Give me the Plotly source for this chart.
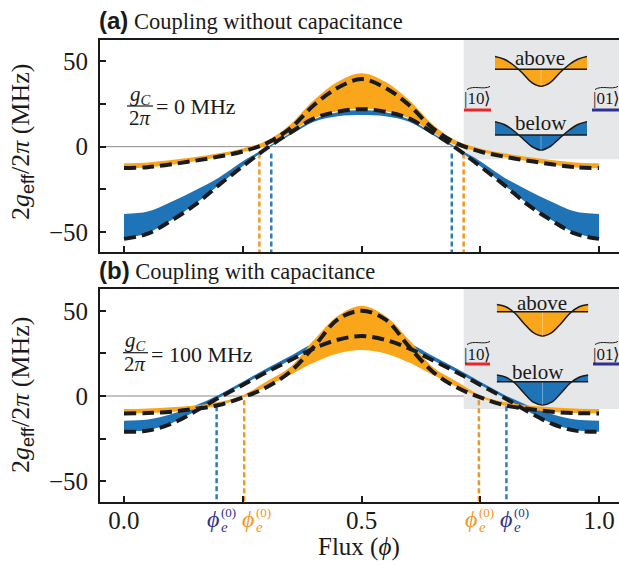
import plotly.graph_objects as go

# ---------------- data ----------------
flux = [0.00, 0.05, 0.10, 0.15, 0.20, 0.25, 0.30, 0.35, 0.40, 0.45, 0.50,
        0.55, 0.60, 0.65, 0.70, 0.75, 0.80, 0.85, 0.90, 0.95, 1.00]

# panel (a): g_C/2pi = 0 MHz
a_or_hi = [-9.7, -9.2, -7.8, -6.0, -3.9, -1.0, 3.5, 13.0, 27.3, 38.0, 43.0,
           38.0, 27.3, 13.0, 3.5, -1.0, -3.9, -6.0, -7.8, -9.2, -9.7]
a_or_lo = [-12.7, -12.2, -10.6, -8.5, -6.0, -3.0, 0.5, 8.2, 16.6, 20.8, 22.3,
           20.8, 16.6, 8.2, 0.5, -3.0, -6.0, -8.5, -10.6, -12.2, -12.7]
a_bl_hi = [-39.4, -38.0, -32.2, -25.5, -18.0, -8.5, -0.5, 7.8, 16.0, 20.2, 21.5,
           20.2, 16.0, 7.8, -0.5, -8.5, -18.0, -25.5, -32.2, -38.0, -39.4]
a_bl_lo = [-53.7, -50.5, -43.0, -33.5, -22.4, -11.5, -1.5, 6.8, 14.6, 17.8, 18.5,
           17.8, 14.6, 6.8, -1.5, -11.5, -22.4, -33.5, -43.0, -50.5, -53.7]
a_dash_above = [-12.5, -12.0, -10.3, -8.2, -5.8, -2.8, 2.0, 10.8, 24.4, 34.5, 39.6,
                34.5, 24.4, 10.8, 2.0, -2.8, -5.8, -8.2, -10.3, -12.0, -12.5]
a_dash_below = [-54.0, -51.0, -43.2, -34.0, -22.4, -11.5, -1.0, 8.2, 16.6, 20.5, 22.0,
                20.5, 16.6, 8.2, -1.0, -11.5, -22.4, -34.0, -43.2, -51.0, -54.0]
a_cross_orange = [0.285, 0.715]
a_cross_blue = [0.310, 0.690]

# panel (b): g_C/2pi = 100 MHz
b_or_hi = [-7.6, -7.3, -6.6, -5.5, -3.5, 0.5, 8.5, 17.0, 33.0, 47.0, 53.0,
           47.0, 33.0, 17.0, 8.5, 0.5, -3.5, -5.5, -6.6, -7.3, -7.6]
b_or_lo = [-10.2, -10.0, -9.3, -7.8, -5.5, -0.8, 5.5, 12.5, 19.7, 25.0, 27.0,
           25.0, 19.7, 12.5, 5.5, -0.8, -5.5, -7.8, -9.3, -10.0, -10.2]
b_bl_hi = [-14.5, -13.8, -10.5, -5.5, 0.8, 8.4, 16.2, 23.5, 31.0, 34.0, 35.0,
           34.0, 31.0, 23.5, 16.2, 8.4, 0.8, -5.5, -10.5, -13.8, -14.5]
b_bl_lo = [-21.0, -20.0, -16.0, -9.0, -1.0, 6.5, 14.0, 21.0, 28.0, 31.5, 32.5,
           31.5, 28.0, 21.0, 14.0, 6.5, -1.0, -9.0, -16.0, -20.0, -21.0]
b_dash_above = [-10.2, -10.0, -9.2, -7.5, -5.3, -0.8, 5.1, 14.3, 29.0, 45.0, 50.0,
                45.0, 29.0, 14.3, 5.1, -0.8, -5.3, -7.5, -9.2, -10.0, -10.2]
b_dash_below = [-21.0, -20.3, -16.2, -9.0, -1.0, 6.5, 14.0, 21.0, 28.0, 33.0, 35.2,
                33.0, 28.0, 21.0, 14.0, 6.5, -1.0, -9.0, -16.2, -20.3, -21.0]
b_cross_blue = [0.195, 0.805]
b_cross_orange = [0.253, 0.747]

# inset sketches (wave profile, arbitrary units)
inset_t = [0.0, 0.1, 0.2, 0.3, 0.4, 0.5, 0.6, 0.7, 0.8, 0.9, 1.0]
wave_a_above = [12.7, 10.0, 4.3, -4.0, -13.3, -17.0, -13.3, -4.0, 4.3, 10.0, 12.7]
wave_a_below = [13.3, 10.5, 4.5, -3.5, -11.5, -15.0, -11.5, -3.5, 4.5, 10.5, 13.3]
wave_b_above = [7.3, 5.0, -1.5, -12.0, -21.0, -24.3, -21.0, -12.0, -1.5, 5.0, 7.3]
wave_b_below = [6.7, 4.5, -1.5, -11.5, -20.5, -23.3, -20.5, -11.5, -1.5, 4.5, 6.7]

y_ticks = [-50, -25, 0, 25, 50]
y_ticktext = ["\u221250", " ", "0", " ", "50"]
x_ticks = [0.0, 0.25, 0.5, 0.75, 1.0]
x_ticktext = ["0.0", " ", "0.5", " ", "1.0"]

# ---------------- style ----------------
W, H = 619, 565
SERIF = "Liberation Serif"
SANS = "Liberation Sans"
ORANGE = "#FAA61A"
BLUE = "#1F74B8"
DOT_ORANGE = "#F7941D"
DOT_BLUE = "#2A7DC2"
NAVY = "#2E3192"
RED = "#E8262A"
GRAYBOX = "#E6E7E8"

X_RANGE = [-0.0505, 1.042]
A_RANGE = [-61.7, 62.5]
B_RANGE = [-62.0, 62.8]
GRAY_X0 = 0.715


def fx(p):
    return p / W


def fy(p):
    return 1 - p / H


fig = go.Figure()


def add_band(xa, ya, lo, hi, color):
    fig.add_trace(go.Scatter(x=flux, y=lo, mode="lines", xaxis=xa, yaxis=ya,
                             line=dict(width=0, shape="spline", color=color),
                             hoverinfo="skip", showlegend=False))
    fig.add_trace(go.Scatter(x=flux, y=hi, mode="lines", xaxis=xa, yaxis=ya,
                             line=dict(width=0, shape="spline", color=color),
                             fill="tonexty", fillcolor=color,
                             hoverinfo="skip", showlegend=False))


def add_dash(xa, ya, vals):
    fig.add_trace(go.Scatter(x=flux, y=vals, mode="lines", xaxis=xa, yaxis=ya,
                             line=dict(width=4, shape="spline", color="#1a1a1a", dash="12px,6px"),
                             hoverinfo="skip", showlegend=False))


def add_vlines(xa, ya, xs, y_top, y_bot, color):
    xx, yy = [], []
    for c in xs:
        xx += [c, c, None]
        yy += [y_top, y_bot, None]
    fig.add_trace(go.Scatter(x=xx, y=yy, mode="lines", xaxis=xa, yaxis=ya,
                             line=dict(width=2.5, color=color, dash="5px,3px"),
                             hoverinfo="skip", showlegend=False))


def add_zero(xa, ya):
    fig.add_trace(go.Scatter(x=[X_RANGE[0], GRAY_X0], y=[0, 0], mode="lines",
                             xaxis=xa, yaxis=ya, line=dict(width=1, color="#8a8a8a"),
                             hoverinfo="skip", showlegend=False))


# panel a
add_zero("x", "y")
add_vlines("x", "y", a_cross_orange, -4, A_RANGE[0], DOT_ORANGE)
add_vlines("x", "y", a_cross_blue, -4, A_RANGE[0], DOT_BLUE)
add_band("x", "y", a_bl_lo, a_bl_hi, BLUE)
add_band("x", "y", a_or_lo, a_or_hi, ORANGE)
add_dash("x", "y", a_dash_above)
add_dash("x", "y", a_dash_below)

# panel b
add_zero("x2", "y2")
add_vlines("x2", "y2", b_cross_blue, -6, B_RANGE[0], DOT_BLUE)
add_vlines("x2", "y2", b_cross_orange, -2.5, B_RANGE[0], DOT_ORANGE)
add_band("x2", "y2", b_bl_lo, b_bl_hi, BLUE)
add_band("x2", "y2", b_or_lo, b_or_hi, ORANGE)
add_dash("x2", "y2", b_dash_above)
add_dash("x2", "y2", b_dash_below)

# insets: (axis index, wave, color, x px range, baseline py, dom top py, dom bottom py)
insets = [
    (3, wave_a_above, ORANGE, (495, 587), 69.3, 52, 90),
    (4, wave_a_below, BLUE, (495, 587), 135.0, 118, 154),
    (5, wave_b_above, ORANGE, (496.7, 588.3), 311.7, 300, 340),
    (6, wave_b_below, BLUE, (496.7, 588.3), 381.7, 371, 408),
]
inset_layout = {}
for idx, wave, color, (x0, x1), base, dtop, dbot in insets:
    xa, ya = f"x{idx}", f"y{idx}"
    zero = [0.0] * len(inset_t)
    fig.add_trace(go.Scatter(x=inset_t, y=zero, mode="lines", xaxis=xa, yaxis=ya,
                             line=dict(width=0, color=color), hoverinfo="skip", showlegend=False))
    fig.add_trace(go.Scatter(x=inset_t, y=wave, mode="lines", xaxis=xa, yaxis=ya,
                             line=dict(width=1.5, color="#1a1a1a", shape="spline"),
                             fill="tonexty", fillcolor=color, hoverinfo="skip", showlegend=False))
    mid = len(inset_t) // 2
    fig.add_trace(go.Scatter(x=[inset_t[mid], inset_t[mid]], y=[0, wave[mid]], mode="lines",
                             xaxis=xa, yaxis=ya, line=dict(width=1, color="rgba(255,255,255,0.35)"),
                             hoverinfo="skip", showlegend=False))
    fig.add_trace(go.Scatter(x=inset_t, y=zero, mode="lines", xaxis=xa, yaxis=ya,
                             line=dict(width=1.5, color="#1a1a1a"), hoverinfo="skip", showlegend=False))
    inset_layout[f"xaxis{idx}"] = dict(domain=[fx(x0), fx(x1)], range=[inset_t[0], inset_t[-1]],
                                       anchor=ya, visible=False, fixedrange=True, automargin=False)
    inset_layout[f"yaxis{idx}"] = dict(domain=[fy(dbot), fy(dtop)], range=[-(dbot - base), base - dtop],
                                       anchor=xa, visible=False, fixedrange=True, automargin=False)

axis_common = dict(showline=True, linecolor="#1a1a1a", linewidth=2, ticks="inside",
                   ticklen=6, tickwidth=1.5, tickcolor="#1a1a1a", showgrid=False,
                   zeroline=False, automargin=False,
                   tickfont=dict(family=SERIF, size=25, color="#1a1a1a"))

fig.update_layout(
    template="none",
    width=W, height=H, autosize=False,
    margin=dict(l=0, r=0, t=0, b=0, pad=0, autoexpand=False),
    paper_bgcolor="white", plot_bgcolor="rgba(0,0,0,0)",
    font=dict(family=SERIF, color="#1a1a1a"),
    showlegend=False,
    xaxis=dict(domain=[fx(100), 1], range=X_RANGE, anchor="y", mirror=True,
               tickvals=x_ticks, showticklabels=False, **axis_common),
    yaxis=dict(domain=[fy(252), fy(40)], range=A_RANGE, anchor="x",
               tickvals=y_ticks, ticktext=y_ticktext, ticklabelstandoff=5, **axis_common),
    xaxis2=dict(domain=[fx(100), 1], range=X_RANGE, anchor="y2", mirror=True,
                tickvals=x_ticks, ticktext=x_ticktext, ticklabelstandoff=-5, **axis_common),
    yaxis2=dict(domain=[fy(501.7), fy(289)], range=B_RANGE, anchor="x2",
                tickvals=y_ticks, ticktext=y_ticktext, ticklabelstandoff=5, **axis_common),
    **inset_layout,
)

shapes = []
# gray inset backgrounds
shapes.append(dict(type="rect", xref="x", yref="y", x0=GRAY_X0, x1=X_RANGE[1], y0=-7.4, y1=A_RANGE[1],
                   fillcolor=GRAYBOX, line=dict(width=0), layer="below"))
shapes.append(dict(type="rect", xref="x2", yref="y2", x0=GRAY_X0, x1=X_RANGE[1], y0=-7.6, y1=B_RANGE[1],
                   fillcolor=GRAYBOX, line=dict(width=0), layer="below"))


def hline(x0, x1, y, color, width):
    shapes.append(dict(type="line", xref="paper", yref="paper", x0=fx(x0), x1=fx(x1),
                       y0=fy(y), y1=fy(y), line=dict(color=color, width=width)))


def tilde(x0, x1, y):
    w = x1 - x0
    path = (f"M {fx(x0)},{fy(y + 1.5)} C {fx(x0 + w * 0.3)},{fy(y - 3)} "
            f"{fx(x0 + w * 0.7)},{fy(y + 2)} {fx(x1)},{fy(y - 1.5)}")
    shapes.append(dict(type="path", xref="paper", yref="paper", path=path,
                       line=dict(color="#1a1a1a", width=1)))


# ket underlines and tildes
hline(464, 491, 110, RED, 3)
hline(592, 619, 110, NAVY, 3)
hline(465, 490, 364, RED, 3)
hline(593, 619, 364, NAVY, 3)
tilde(467, 490, 88)
tilde(595, 618, 88)
tilde(467, 490, 343)
tilde(595, 618, 343)
# fraction bars
hline(127, 153, 106, "#1a1a1a", 1.2)
hline(123, 148, 352.7, "#1a1a1a", 1.2)

fig.update_layout(shapes=shapes)

ann = []


def text(x, y, s, size, xanchor="center", yanchor="middle", color="#1a1a1a", family=SERIF, angle=0):
    ann.append(dict(x=fx(x), y=fy(y), xref="paper", yref="paper", text=s, showarrow=False,
                    xanchor=xanchor, yanchor=yanchor, textangle=angle, borderpad=0,
                    font=dict(family=family, size=size, color=color)))


# titles
text(98, 20, f'<span style="font-family:{SANS};font-size:24px"><b>(a)</b></span> Coupling without capacitance', 22.5, xanchor="left")
text(98, 270, f'<span style="font-family:{SANS};font-size:24px"><b>(b)</b></span> Coupling with capacitance', 22.5, xanchor="left")

# y-axis titles
ylab = f'2<i>g</i><sub><span style="font-family:{SANS}">eff</span></sub>/2<i>\u03c0</i> (MHz)'
text(22, 142, ylab, 26, angle=-90)
text(22, 395, ylab, 26, angle=-90)

# x-axis title
text(359, 547, "Flux (<i>\u03d5</i>)", 25)

# coupling annotations
text(140, 95, "<i>g<sub>C</sub></i>", 21)
text(140, 118, "2<i>\u03c0</i>", 21)
text(155, 106, "= 0 MHz", 22, xanchor="left")
text(135, 341, "<i>g<sub>C</sub></i>", 21)
text(135, 364, "2<i>\u03c0</i>", 21)
text(150, 354, "= 100 MHz", 22, xanchor="left")

# inset labels
text(540, 58, "above", 21)
text(541, 123, "below", 21)
text(542, 303, "above", 21)
text(538, 372, "below", 21)
text(477.5, 98, "|10\u27e9", 17)
text(606, 98, "|01\u27e9", 17)
text(477.5, 354, "|10\u27e9", 17)
text(606, 354, "|01\u27e9", 17)

# phi_e^(0) labels
phi_centers = [212.5, 247.5, 471.0, 506.0]
phi_colors = [NAVY, DOT_ORANGE, DOT_ORANGE, NAVY]
for cx, col in zip(phi_centers, phi_colors):
    text(cx, 519, "<i>\u03d5</i>", 24, color=col)
    text(cx + 7, 512, "(0)", 13, xanchor="left", color=col)
    text(cx + 7, 527, "<i>e</i>", 15, xanchor="left", color=col)

fig.update_layout(annotations=ann)

fig.write_html("out.html", config={"displayModeBar": False},
               post_script="document.body.style.margin='0px';document.body.style.overflow='hidden';")
